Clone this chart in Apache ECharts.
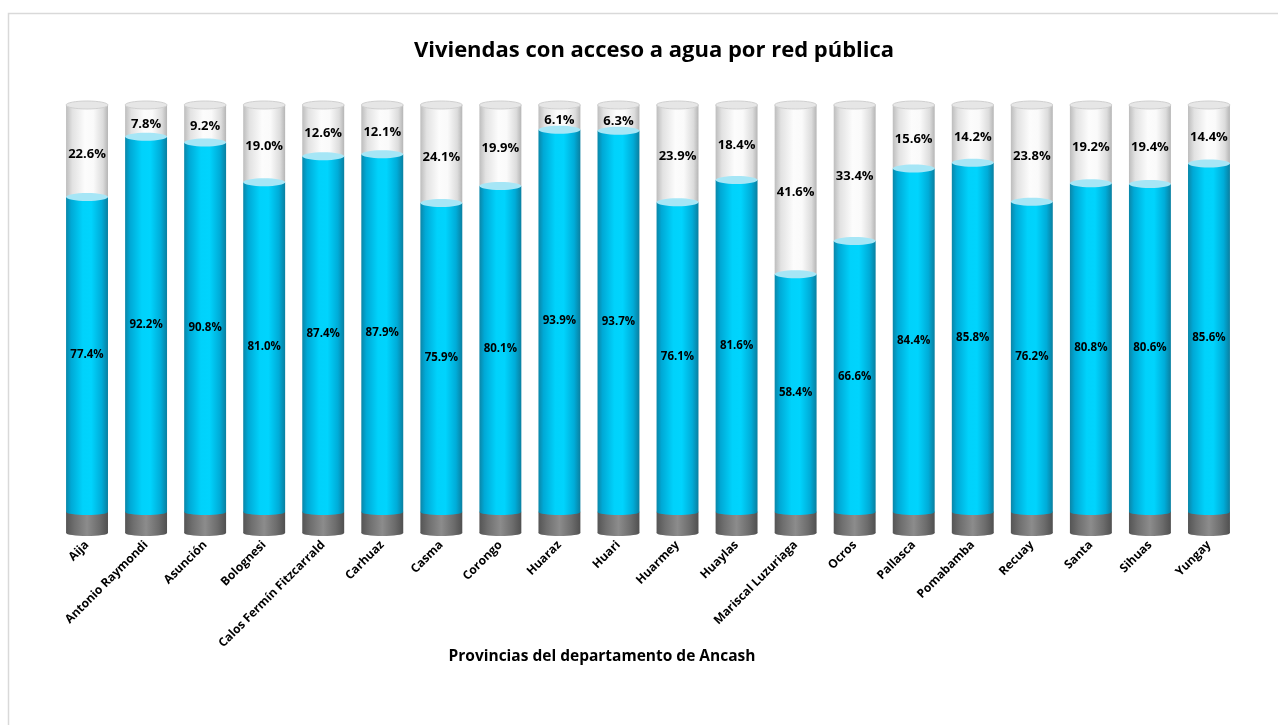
<!DOCTYPE html>
<html><head><meta charset="utf-8">
<script src="https://cdn.jsdelivr.net/npm/echarts@6/dist/echarts.min.js"></script>
<style>html,body{margin:0;padding:0;background:#fff}#c{width:1278px;height:725px}</style>
</head><body><div id="c"></div>
<script>
const categories = ['Aija','Antonio Raymondi','Asunción','Bolognesi','Calos Fermín Fitzcarrald','Carhuaz','Casma','Corongo','Huaraz','Huari','Huarmey','Huaylas','Mariscal Luzuriaga','Ocros','Pallasca','Pomabamba','Recuay','Santa','Sihuas','Yungay'];
const conAcceso = [77.4,92.2,90.8,81.0,87.4,87.9,75.9,80.1,93.9,93.7,76.1,81.6,58.4,66.6,84.4,85.8,76.2,80.8,80.6,85.6];
const sinAcceso = [22.6,7.8,9.2,19.0,12.6,12.1,24.1,19.9,6.1,6.3,23.9,18.4,41.6,33.4,15.6,14.2,23.8,19.2,19.4,14.4];

const FONT = '"Open Sans", "Noto Sans", sans-serif';
function hg(stops){return {type:'linear',x:0,y:0,x2:1,y2:0,colorStops:stops.map((c,i)=>({offset:c[0],color:c[1]}))};}
const blueGrad = hg([[0,'#0a86a8'],[0.12,'#00a9d6'],[0.4,'#00d2fb'],[0.6,'#00d4fd'],[0.85,'#00acd8'],[1,'#0a7fa0']]);
const whiteGrad = hg([[0,'#bdbdbd'],[0.15,'#e2e2e2'],[0.45,'#fcfcfc'],[0.65,'#fafafa'],[0.88,'#dcdcdc'],[1,'#b5b5b5']]);
const grayGrad = hg([[0,'#555555'],[0.2,'#6f6f6f'],[0.5,'#8c8c8c'],[0.8,'#6c6c6c'],[1,'#505050']]);

const data = categories.map((c,i)=>[i, conAcceso[i], sinAcceso[i]]);

function renderItem(params, api){
  const i = api.value(0), a = api.value(1), b = api.value(2);
  const p0 = api.coord([i,0]);
  const pa = api.coord([i,a]);
  const pt = api.coord([i,a+b]);
  const bw = api.size([1,0])[0];
  const w = bw*0.71, cx = p0[0], x = cx - w/2, rx = w/2, ry = 4;
  const baseH = 21;
  const children = [
    {type:'rect', shape:{x:x, y:p0[1], width:w, height:baseH}, style:{fill:grayGrad}},
    {type:'ellipse', shape:{cx:cx, cy:p0[1]+baseH, rx:rx, ry:3}, style:{fill:grayGrad}},
    {type:'rect', shape:{x:x, y:pt[1], width:w, height:pa[1]-pt[1]}, style:{fill:whiteGrad}},
    {type:'ellipse', shape:{cx:cx, cy:pt[1], rx:rx, ry:ry}, style:{fill:'#e6e6e6', stroke:'#d0d0d0', lineWidth:1}},
    {type:'rect', shape:{x:x, y:pa[1], width:w, height:p0[1]-pa[1]}, style:{fill:blueGrad}},
    {type:'ellipse', shape:{cx:cx, cy:p0[1], rx:rx, ry:3}, style:{fill:blueGrad}},
    {type:'ellipse', shape:{cx:cx, cy:pa[1], rx:rx, ry:ry}, style:{fill:'#a6e6f6'}},
    {type:'text', x:cx, y:(pt[1]+pa[1])/2+3, style:{text:b.toFixed(1)+'%', align:'center', verticalAlign:'middle', font:'bold 13px '+FONT, fill:'#000'}},
    {type:'text', x:cx, y:(pa[1]+p0[1])/2, style:{text:a.toFixed(1)+'%', align:'center', verticalAlign:'middle', font:'bold 11.5px '+FONT, fill:'#000'}}
  ];
  return {type:'group', children:children};
}

const chart = echarts.init(document.getElementById('c'), null, {renderer:'canvas'});
chart.setOption({
  backgroundColor:'#fff',
  animation:false,
  title:{text:'Viviendas con acceso a agua por red pública', left:649, top:35, textAlign:'center',
    textStyle:{fontFamily:FONT, fontSize:22, fontWeight:'bold', color:'#000'}},
  grid:{left:57.5, right:39.5, top:105, bottom:213, containLabel:false},
  xAxis:{type:'category', data:categories, axisLine:{show:false}, axisTick:{show:false}, splitLine:{show:false},
    axisLabel:{interval:0, rotate:45, margin:31, fontFamily:FONT, fontSize:12, fontWeight:'bold', color:'#000'}},
  yAxis:{type:'value', min:0, max:100, show:false},
  graphic:[
    {type:'rect', z:-1, shape:{x:8.5, y:13.5, width:1300, height:800}, style:{fill:'none', stroke:'#d9d9d9', lineWidth:1.5}},
    {type:'text', x:602, y:657, style:{text:'Provincias del departamento de Ancash', align:'center', verticalAlign:'middle', font:'bold 15.5px '+FONT, fill:'#000'}}
  ],
  series:[{type:'custom', renderItem:renderItem, data:data, clip:false}]
});
</script></body></html>
